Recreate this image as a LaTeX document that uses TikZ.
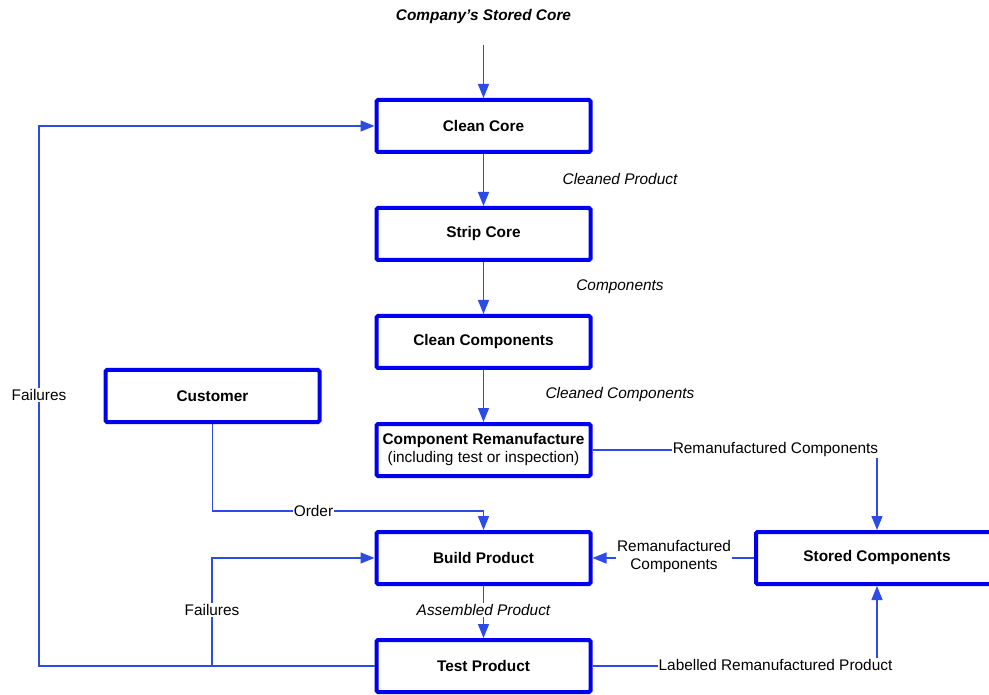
\documentclass[tikz,border=0pt]{standalone}
\usepackage{fontspec}
\setmainfont{Liberation Sans}
\usetikzlibrary{arrows.meta}
\definecolor{boxblue}{RGB}{0,0,240}
\definecolor{linkblue}{RGB}{45,75,230}

\begin{document}
\begin{tikzpicture}[x=1pt,y=-1pt,
  font=\fontsize{15.4}{18}\selectfont,
  stepbox/.style={draw=boxblue, line width=4pt, rounded corners=1.5pt,
    minimum width=214pt, minimum height=52pt, align=center, fill=white,
    inner sep=2pt, font=\fontsize{15.4}{18}\selectfont\bfseries},
  flow/.style={draw=linkblue, line width=1.3pt, -{Triangle[length=14pt,width=11pt]}},
  tag/.style={fill=white, inner sep=1pt, align=center},
  note/.style={font=\fontsize{15.4}{18}\selectfont\itshape}]
\useasboundingbox (0,0) rectangle (989,695);

% process steps
\node[stepbox] (clean)    at (483.5,126) {Clean Core};
\node[stepbox] (strip)    at (483.5,234) {Strip Core};
\node[stepbox] (cleancmp) at (483.5,342) {Clean Components};
\node[stepbox] (reman)    at (483.5,450) {Component Remanufacture\\\mdseries(including test or inspection)};
\node[stepbox] (build)    at (483.5,558) {Build Product};
\node[stepbox] (test)     at (483.5,666) {Test Product};
\node[stepbox] (customer) at (212.5,396) {Customer};
\node[stepbox, minimum width=242pt] (stored) at (877,558) {Stored Components};

% source of cores
\node[font=\fontsize{15.4}{18}\selectfont\bfseries\itshape] (title) at (483.5,17) {Company’s Stored Core};
\coordinate (feed) at (483.5,45);

% helper points for the bent connectors
\coordinate (outerbend) at (39,666);
\coordinate (innerjoin) at (212,666);
\coordinate (orderbend) at (483.5,511);

% main line
\draw[flow] (feed) -- (clean);
\draw[flow] (clean) -- (strip);
\draw[flow] (strip) -- (cleancmp);
\draw[flow] (cleancmp) -- (reman);
\draw[flow] (build) -- (test);

% customer order
\draw[flow] (customer.south) |- (orderbend) -- (build.north);

% failure loops
\draw[flow] (test.west) -- (outerbend) |- (clean.west);
\draw[flow] (innerjoin) |- (build.west);

% component store
\draw[flow] (reman.east) -| (stored.north);
\draw[flow] (stored.west) -- (build.east);
\draw[flow] (test.east) -| (stored.south);

% flow labels
\node[note] at (620,179) {Cleaned Product};
\node[note] at (620,287) {Components};
\node[note] at (620,395) {Cleaned Components};
\node[tag, note] at (483.5,610) {Assembled Product};
\node[tag] at (313.5,511) {Order};
\node[tag] at (39,395) {Failures};
\node[tag] at (212,610) {Failures};
\node[tag] at (775.5,450) {Remanufactured Components};
\node[tag, font=\fontsize{15.4}{18}\selectfont] at (674,557) {Remanufactured\\Components};
\node[tag] at (775.5,665) {Labelled Remanufactured Product};
\end{tikzpicture}
\end{document}
